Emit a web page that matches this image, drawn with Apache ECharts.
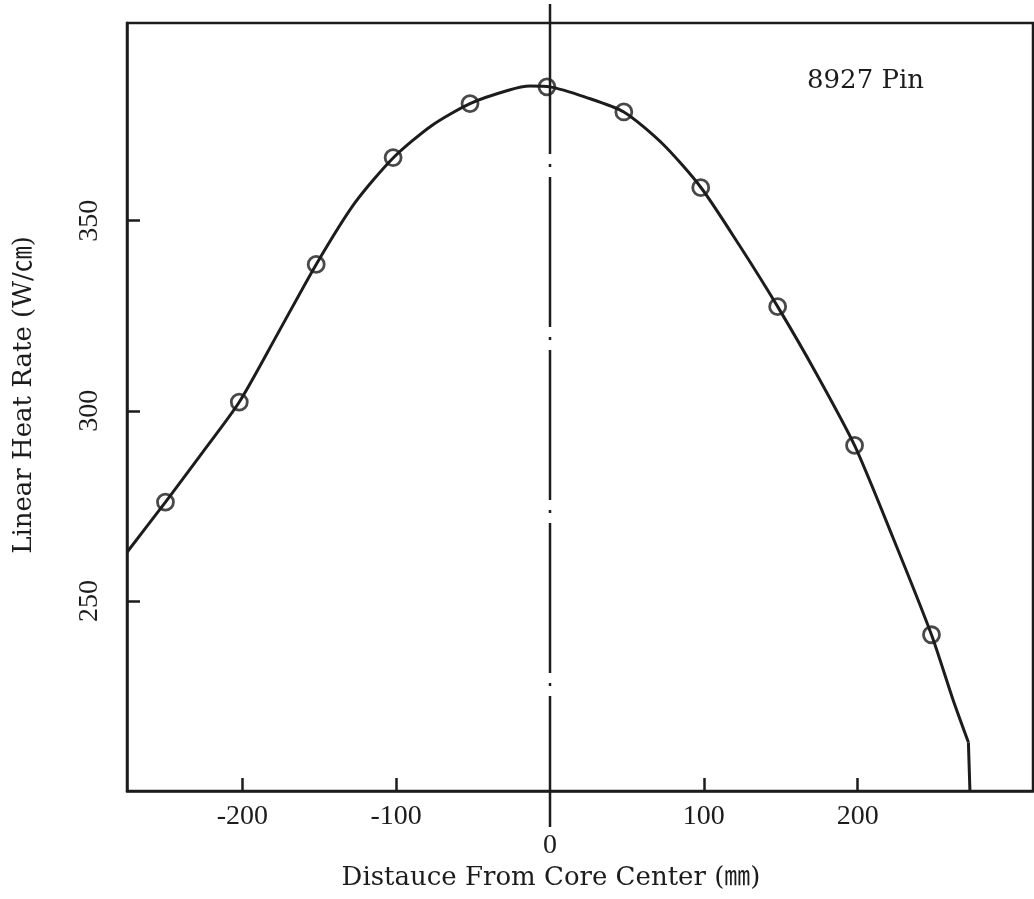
<!DOCTYPE html>
<html>
<head>
<meta charset="utf-8">
<script src="https://cdn.jsdelivr.net/npm/echarts@6/dist/echarts.min.js"></script>
<style>html,body{margin:0;padding:0;background:#fff;}#c{width:1034px;height:899px;}</style>
</head>
<body>
<div id="c"></div>
<script>
// Measured points (circles)
var pointX = [-250, -202, -152, -102, -52, -2, 48, 98, 148, 198, 248];
var pointY = [276.0, 302.3, 338.5, 366.6, 380.8, 385.2, 378.6, 358.7, 327.4, 290.9, 241.1];
// Fitted curve
var curveX = [-275, -250, -226, -202, -177, -152, -127, -102, -77, -52, -27, -13, 0, 23, 48, 73, 98, 123, 148, 173, 198, 223, 248, 262, 272];
var curveY = [262.8, 276.0, 289.0, 302.3, 320.3, 338.5, 354.6, 366.5, 375.0, 380.8, 384.3, 385.4, 385.2, 382.5, 378.6, 370.3, 358.8, 343.6, 327.4, 309.9, 290.9, 266.6, 241.1, 224.0, 212.8];
// Vertical drop at core edge
var dropX = [272, 273];
var dropY = [212.8, 200];
// Core centre reference line
var centerX = [0, 0];
var centerY = [407, 190.5];
var xTicks = [-200, -100, 100, 200];
var xLabels = [-200, -100, 0, 100, 200];
var yTicks = [250, 300, 350];
var pinLabel = '8927 Pin';

function zip(a, b) { return a.map(function (v, i) { return [v, b[i]]; }); }

var serif = '"Liberation Serif", "DejaVu Serif", "Noto Sans CJK JP", serif';
var wide = '"DejaVu Serif", "Liberation Serif", "Noto Sans CJK JP", serif';
var ink = '#1c1c1c';

var chart = echarts.init(document.getElementById('c'));
chart.setOption({
  animation: false,
  backgroundColor: '#fff',
  grid: { left: 127, right: 1, top: 23, bottom: 108, show: true, borderColor: ink, borderWidth: 2.5 },
  xAxis: {
    type: 'value', min: -275, max: 314,
    name: 'Distauce From Core Center (㎜)', nameLocation: 'middle', nameGap: 73,
    nameTextStyle: { fontFamily: wide, fontSize: 26, color: ink, padding: [0, 58, 0, 0] },
    axisLine: { show: true, onZero: false, lineStyle: { color: ink, width: 2.5 } },
    axisTick: { show: true, inside: true, length: 13, customValues: xTicks, lineStyle: { color: ink, width: 2.5 } },
    axisLabel: {
      customValues: xLabels, margin: 11, fontFamily: serif, fontSize: 28, color: ink, lineHeight: 29,
      formatter: function (v) { return v === 0 ? '\n0' : String(v); }
    },
    splitLine: { show: false }
  },
  yAxis: {
    type: 'value', min: 200, max: 402,
    name: 'Linear Heat Rate (W/㎝)', nameLocation: 'middle', nameGap: 90,
    nameTextStyle: { fontFamily: wide, fontSize: 26, color: ink, padding: [0, 0, 0, 24] },
    axisLine: { show: true, onZero: false, lineStyle: { color: ink, width: 2.5 } },
    axisTick: { show: true, inside: true, length: 13, customValues: yTicks, lineStyle: { color: ink, width: 2.5 } },
    axisLabel: { customValues: yTicks, rotate: 90, margin: 23, fontFamily: serif, fontSize: 28, color: ink },
    splitLine: { show: false }
  },
  graphic: [{
    type: 'text', left: 807, top: 68,
    style: { text: pinLabel, font: '26px ' + wide, fill: ink }
  }],
  series: [
    {
      type: 'line', data: zip(centerX, centerY), symbol: 'none', clip: false, silent: true,
      lineStyle: { color: ink, width: 2.5, type: [150, 10, 3, 10] }
    },
    {
      type: 'line', data: zip(curveX, curveY), symbol: 'none', smooth: 0.25,
      lineStyle: { color: ink, width: 3 }
    },
    {
      type: 'line', data: zip(dropX, dropY), symbol: 'none',
      lineStyle: { color: ink, width: 3 }
    },
    {
      type: 'scatter', data: zip(pointX, pointY), symbol: 'circle', symbolSize: 16,
      itemStyle: { color: 'rgba(0,0,0,0)', borderColor: ink, borderWidth: 2.8 }
    }
  ]
});
</script>
</body>
</html>
